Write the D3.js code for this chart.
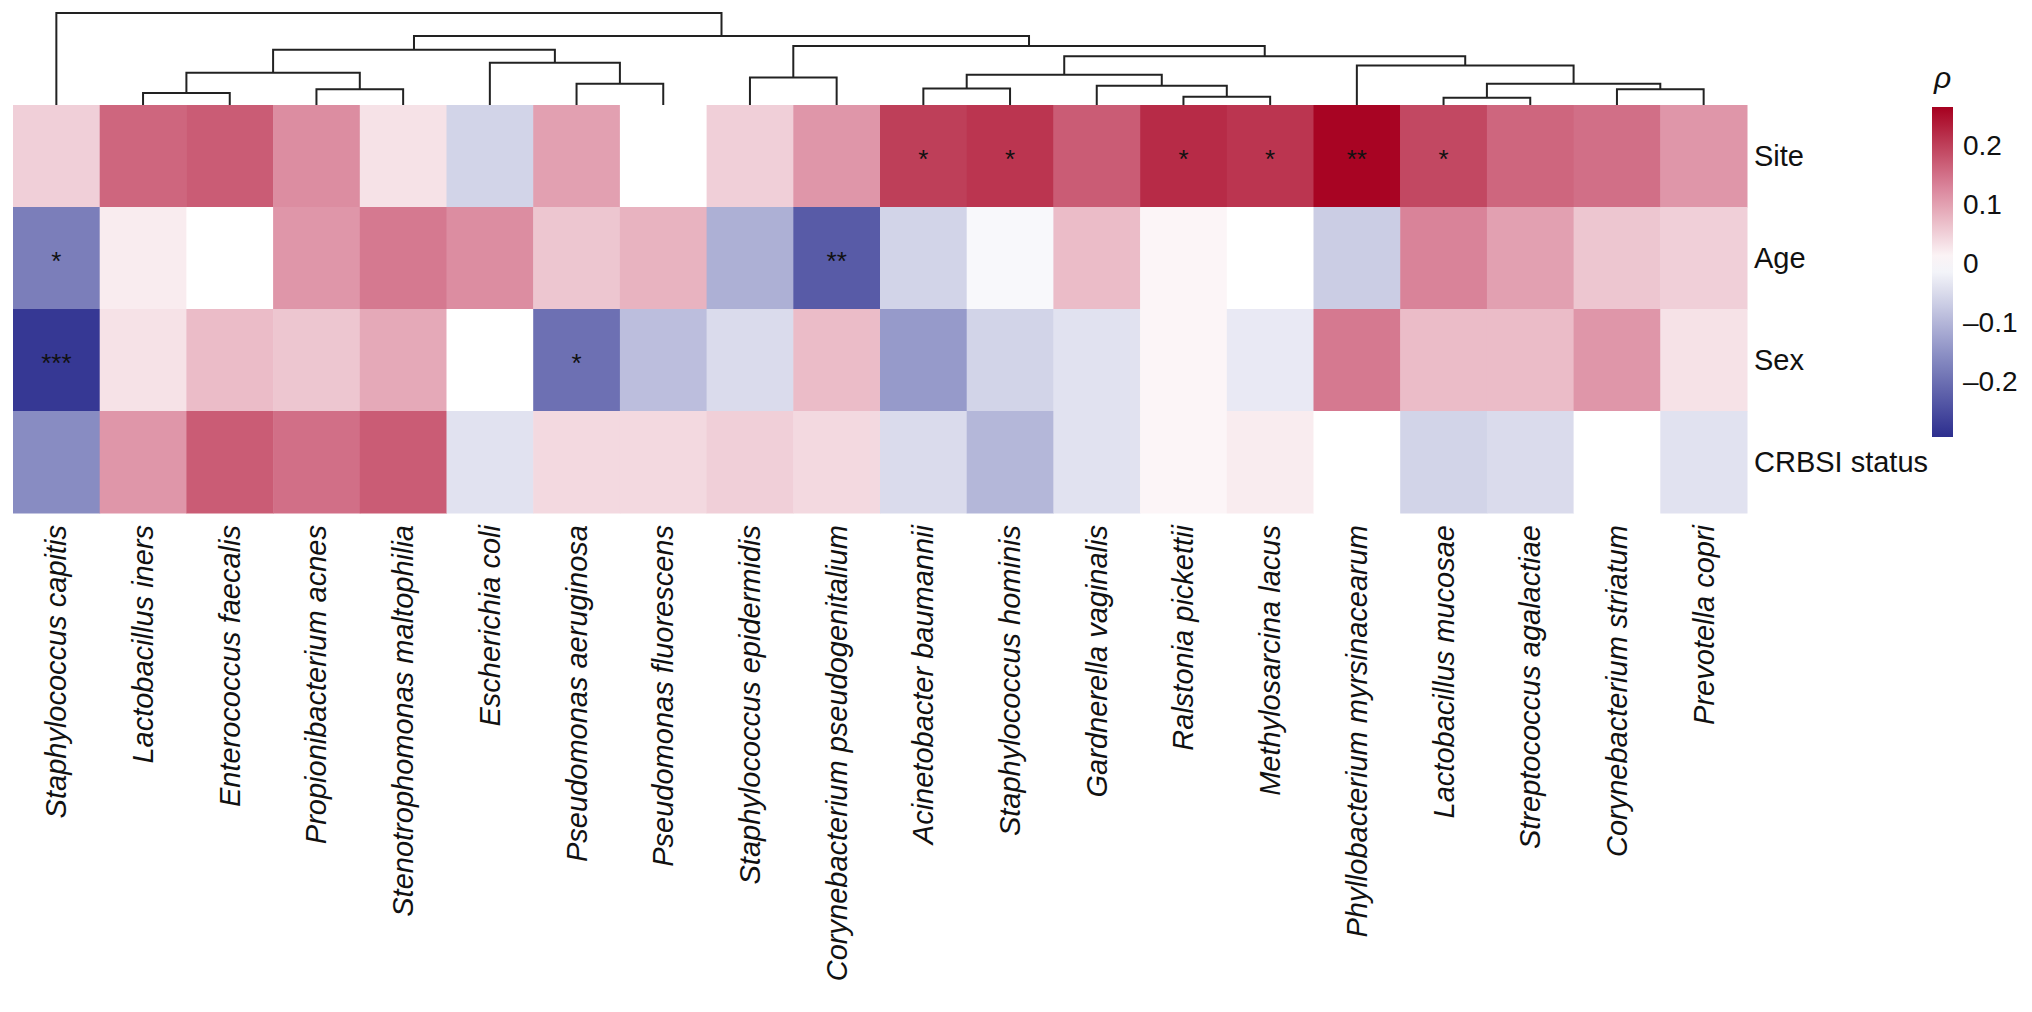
<!DOCTYPE html>
<html>
<head>
<meta charset="utf-8">
<script src="https://cdn.jsdelivr.net/npm/d3@7"></script>
<style>
  body { margin: 0; background: #fff; }
  text { font-family: "Liberation Sans", Arial, sans-serif; fill: #111; }
</style>
</head>
<body>
<div id="chart"></div>
<script>
// taxa in dendrogram order
const taxa = [
  "Staphylococcus capitis", "Lactobacillus iners", "Enterococcus faecalis",
  "Propionibacterium acnes", "Stenotrophomonas maltophilia", "Escherichia coli",
  "Pseudomonas aeruginosa", "Pseudomonas fluorescens", "Staphylococcus epidermidis",
  "Corynebacterium pseudogenitalium", "Acinetobacter baumannii", "Staphylococcus hominis",
  "Gardnerella vaginalis", "Ralstonia pickettii", "Methylosarcina lacus",
  "Phyllobacterium myrsinacearum", "Lactobacillus mucosae", "Streptococcus agalactiae",
  "Corynebacterium striatum", "Prevotella copri"
];
const variables = ["Site", "Age", "Sex", "CRBSI status"];

// spearman rho, one array per variable (same order as taxa)
const site  = [0.05, 0.16, 0.17, 0.12, 0.03, -0.06, 0.10, 0.00, 0.05, 0.11, 0.20, 0.21, 0.17, 0.22, 0.21, 0.26, 0.19, 0.16, 0.15, 0.11];
const age   = [-0.18, 0.02, 0.00, 0.11, 0.14, 0.12, 0.06, 0.08, -0.11, -0.23, -0.06, -0.01, 0.07, 0.01, 0.00, -0.07, 0.13, 0.10, 0.06, 0.05];
const sex   = [-0.28, 0.03, 0.07, 0.06, 0.09, 0.00, -0.20, -0.09, -0.05, 0.07, -0.14, -0.06, -0.04, 0.01, -0.03, 0.14, 0.07, 0.07, 0.11, 0.03];
const crbsi = [-0.16, 0.11, 0.17, 0.15, 0.17, -0.04, 0.04, 0.04, 0.05, 0.04, -0.05, -0.10, -0.04, 0.01, 0.02, 0.00, -0.06, -0.05, 0.00, -0.04];

// significance marks
const siteSig  = ["", "", "", "", "", "", "", "", "", "", "*", "*", "", "*", "*", "**", "*", "", "", ""];
const ageSig   = ["*", "", "", "", "", "", "", "", "", "**", "", "", "", "", "", "", "", "", "", ""];
const sexSig   = ["***", "", "", "", "", "", "*", "", "", "", "", "", "", "", "", "", "", "", "", ""];
const crbsiSig = taxa.map(() => "");

// dendrogram: [height, left, right], leaves are taxon indices
const tree = [1.0,
  0,
  [0.75,
    [0.60,
      [0.35, [0.13, 1, 2], [0.17, 3, 4]],
      [0.46, 5, [0.23, 6, 7]]],
    [0.64,
      [0.30, 8, 9],
      [0.53,
        [0.33, [0.18, 10, 11], [0.21, 12, [0.09, 13, 14]]],
        [0.43, 15, [0.23, [0.08, 16, 17], [0.17, 18, 19]]]]]]];

const legendTicks = [0.2, 0.1, 0, -0.1, -0.2];

const values = [site, age, sex, crbsi];
const sigs = [siteSig, ageSig, sexSig, crbsiSig];

const width = 2032, height = 1012;
const mLeft = 13, mRight = 1747, mTop = 105, mBottom = 513;

const svg = d3.select("#chart").append("svg")
  .attr("width", width).attr("height", height);

const x = d3.scaleBand().domain(d3.range(taxa.length)).range([mLeft, mRight]);
const y = d3.scaleBand().domain(d3.range(variables.length)).range([mTop, mBottom]);

const color = d3.scaleLinear()
  .domain([-0.295, -0.15, 0, 0.13, 0.264])
  .range(["#2c2e8e", "#8f93c6", "#ffffff", "#d98399", "#a6001f"])
  .interpolate(d3.interpolateRgb)
  .clamp(true);

// cells
const cells = [];
values.forEach((row, r) => row.forEach((v, c) => cells.push({r, c, v, s: sigs[r][c]})));

svg.append("g").selectAll("rect").data(cells).join("rect")
  .attr("x", d => x(d.c)).attr("y", d => y(d.r))
  .attr("width", x.bandwidth() + 0.5).attr("height", y.bandwidth() + 0.5)
  .attr("fill", d => color(d.v));

svg.append("g").selectAll("text").data(cells.filter(d => d.s)).join("text")
  .attr("x", d => x(d.c) + x.bandwidth() / 2)
  .attr("y", d => y(d.r) + y.bandwidth() / 2 + 12)
  .attr("text-anchor", "middle")
  .style("font-size", "26px")
  .text(d => d.s);

// row labels
svg.append("g").selectAll("text").data(variables).join("text")
  .attr("x", mRight + 7)
  .attr("y", (d, i) => y(i) + y.bandwidth() / 2)
  .attr("dy", "0.35em")
  .style("font-size", "29px")
  .text(d => d);

// column labels
svg.append("g").selectAll("text").data(taxa).join("text")
  .attr("transform", (d, i) => `translate(${x(i) + x.bandwidth() / 2 + 10},${mBottom + 12}) rotate(-90)`)
  .attr("text-anchor", "end")
  .style("font-size", "29px")
  .style("font-style", "italic")
  .text(d => d);

// dendrogram
const h = d3.scaleLinear().domain([0, 1]).range([mTop, 13]);
const dend = svg.append("g").attr("fill", "none").attr("stroke", "#222").attr("stroke-width", 2);

function drawNode(node) {
  if (typeof node === "number") return {x: x(node) + x.bandwidth() / 2, y: mTop};
  const a = drawNode(node[1]), b = drawNode(node[2]);
  const ny = h(node[0]);
  dend.append("path").attr("d", `M${a.x},${a.y}V${ny}H${b.x}V${b.y}`);
  return {x: (a.x + b.x) / 2, y: ny};
}
drawNode(tree);

// legend
const lx = 1932, lw = 21, ly0 = 107, ly1 = 437;
const ls = d3.scaleLinear().domain([0.264, -0.295]).range([ly0, ly1]);
const grad = svg.append("defs").append("linearGradient")
  .attr("id", "grad").attr("x1", 0).attr("x2", 0).attr("y1", 0).attr("y2", 1);
d3.range(0, 1.0001, 0.05).forEach(t => {
  grad.append("stop").attr("offset", t).attr("stop-color", color(ls.invert(ly0 + t * (ly1 - ly0))));
});
svg.append("rect").attr("x", lx).attr("y", ly0).attr("width", lw).attr("height", ly1 - ly0)
  .attr("fill", "url(#grad)");

svg.append("g").selectAll("text").data(legendTicks).join("text")
  .attr("x", lx + lw + 10).attr("y", d => ls(d)).attr("dy", "0.35em")
  .style("font-size", "28px")
  .text(d => d === 0 ? "0" : (d < 0 ? "\u2013" + Math.abs(d) : d));

svg.append("text").attr("x", lx + lw / 2).attr("y", 88)
  .attr("text-anchor", "middle")
  .style("font-size", "30px").style("font-style", "italic")
  .text("\u03c1");
</script>
</body>
</html>
